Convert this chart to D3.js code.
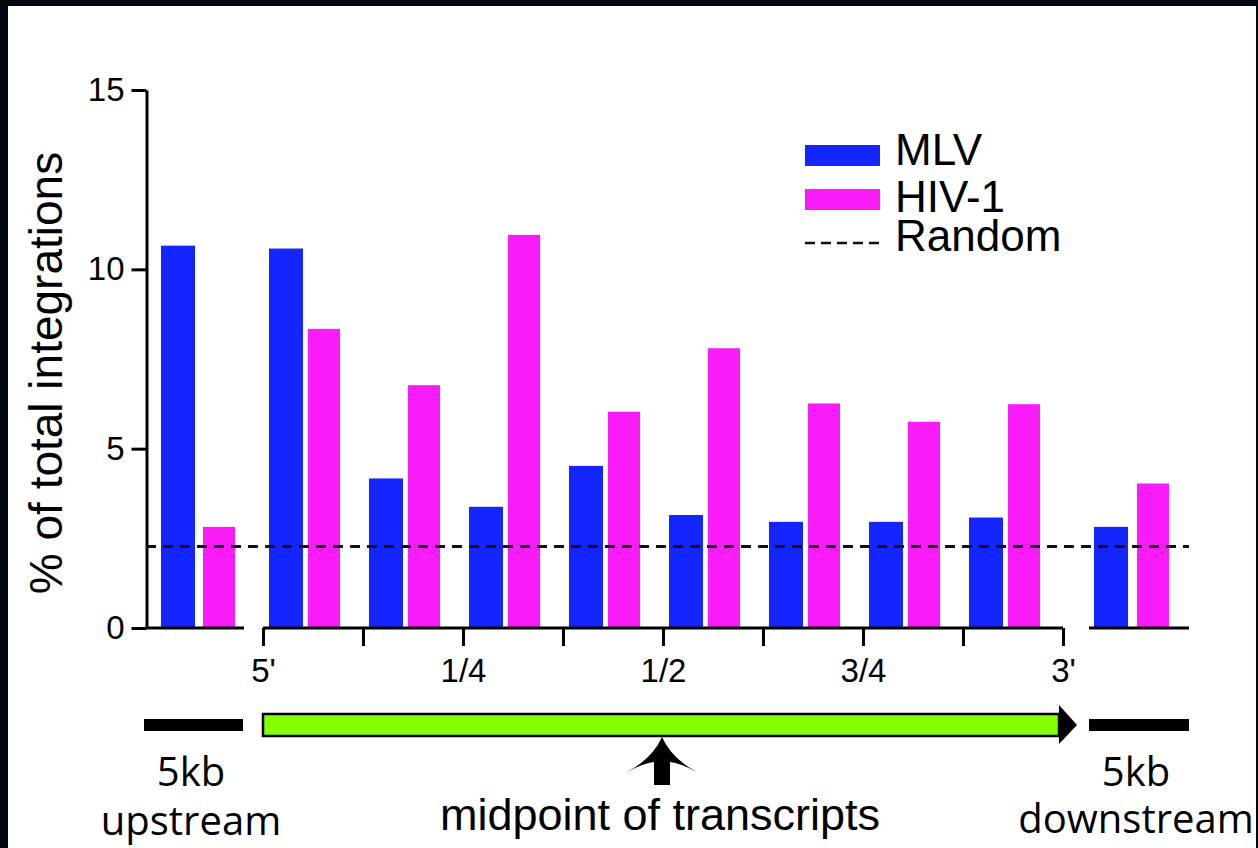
<!DOCTYPE html>
<html>
<head>
<meta charset="utf-8">
<script src="https://cdn.jsdelivr.net/npm/d3@7"></script>
<style>
  body { margin: 0; background: #00060f; }
  svg text { font-family: "Liberation Sans", Arial, sans-serif; fill: #000; }
  .flank { font-family: "Open Sans", "Noto Sans", sans-serif; }
</style>
</head>
<body>
<div id="chart"></div>
<script>
// regions along the transcript: 5kb upstream, 8 gene bins, 5kb downstream
let regions = ["upstream", "bin1", "bin2", "bin3", "bin4", "bin5", "bin6", "bin7", "bin8", "downstream"]
let mlv = [10.66, 10.58, 4.17, 3.38, 4.52, 3.15, 2.96, 2.96, 3.08, 2.82]
let hiv = [2.82, 8.34, 6.77, 10.96, 6.03, 7.80, 6.26, 5.75, 6.24, 4.03]
let randomLevel = 2.27

let yTicks = [0, 5, 10, 15]
let geneTicks = [0, 1/8, 2/8, 3/8, 4/8, 5/8, 6/8, 7/8, 1]
let geneLabels = ["5'", "", "1/4", "", "1/2", "", "3/4", "", "3'"]

let series = [
  { name: "MLV", values: mlv, color: "#1426ff" },
  { name: "HIV-1", values: hiv, color: "#f91cf9" }
]

let width = 1258,
    height = 848

let svg = d3.select("#chart").append("svg")
  .attr("width", width)
  .attr("height", height)

// white panel inside the dark frame
svg.append("rect")
  .attr("x", 8).attr("y", 6)
  .attr("width", 1248).attr("height", height - 6)
  .attr("fill", "#fff")

let y = d3.scaleLinear()
  .domain([0, 15])
  .range([628, 90])

// three sections of the x axis
let xUp = d3.scaleLinear().domain([0, 1]).range([144, 244])
let xGene = d3.scaleLinear().domain([0, 1]).range([263, 1063])
let xDown = d3.scaleLinear().domain([0, 1]).range([1089, 1189])

// slot left edge + bar offsets inside a 100px slot
function slot(i) {
  if (i === 0) return { x0: xUp(0), off: [17, 59] }
  if (i === regions.length - 1) return { x0: xDown(0), off: [5, 48] }
  return { x0: xGene((i - 1) / 8), off: [6, 45] }
}
let barW = [34, 32]

// bars
series.forEach((s, k) => {
  svg.append("g")
    .selectAll("rect")
    .data(s.values)
    .enter().append("rect")
    .attr("x", (d, i) => slot(i).x0 + slot(i).off[k])
    .attr("y", d => y(d))
    .attr("width", barW[k])
    .attr("height", d => y(0) - y(d))
    .attr("fill", s.color)
})

// y axis
let yAxis = svg.append("g")
  .attr("transform", `translate(${xUp(0) + 2.5},0)`)
  .call(d3.axisLeft(y).tickValues(yTicks).tickSize(15).tickSizeOuter(0).tickPadding(7))
yAxis.selectAll("path, line").attr("stroke", "#000").attr("stroke-width", 3)
yAxis.selectAll("text").style("font-size", "33px").attr("font-family", null)

svg.append("text")
  .attr("transform", "translate(62,373) rotate(-90)")
  .attr("text-anchor", "middle")
  .style("font-size", "46px")
  .text("% of total integrations")

// baselines of the flanking sections
svg.append("line")
  .attr("x1", xUp(0) + 1).attr("x2", xUp(1))
  .attr("y1", y(0)).attr("y2", y(0))
  .attr("stroke", "#000").attr("stroke-width", 3)
svg.append("line")
  .attr("x1", xDown(0)).attr("x2", xDown(1))
  .attr("y1", y(0)).attr("y2", y(0))
  .attr("stroke", "#000").attr("stroke-width", 3)

// gene axis
let gAxis = svg.append("g")
  .attr("transform", `translate(0,${y(0)})`)
  .call(d3.axisBottom(xGene).tickValues(geneTicks).tickSize(18).tickSizeOuter(0).tickPadding(13)
    .tickFormat((d, i) => geneLabels[i]))
gAxis.selectAll("path, line").attr("stroke", "#000").attr("stroke-width", 3)
gAxis.select("path").attr("d", `M${xGene(0)},0H${xGene(1)}`)
gAxis.selectAll("text").style("font-size", "33px").attr("font-family", null)

// random expectation
svg.append("line")
  .attr("x1", xUp(0) + 2).attr("x2", xDown(1))
  .attr("y1", y(randomLevel)).attr("y2", y(randomLevel))
  .attr("stroke", "#111").attr("stroke-width", 3)
  .attr("stroke-dasharray", "10,7")

// legend
let legend = svg.append("g").attr("transform", "translate(805,0)")
let legendRows = [
  { label: "MLV", color: series[0].color, top: 145, base: 165 },
  { label: "HIV-1", color: series[1].color, top: 189, base: 212 }
]
legendRows.forEach(r => {
  legend.append("rect")
    .attr("x", 0).attr("y", r.top)
    .attr("width", 75).attr("height", 21)
    .attr("fill", r.color)
  legend.append("text")
    .attr("x", 90).attr("y", r.base)
    .style("font-size", "44px")
    .text(r.label)
})
legend.append("line")
  .attr("x1", 0).attr("x2", 75)
  .attr("y1", 243).attr("y2", 243)
  .attr("stroke", "#111").attr("stroke-width", 2.5)
  .attr("stroke-dasharray", "10,6")
legend.append("text")
  .attr("x", 90).attr("y", 251)
  .style("font-size", "44px")
  .text("Random")

// transcript diagram
let diagY = 725
svg.append("rect")
  .attr("x", xUp(0)).attr("y", diagY - 6)
  .attr("width", 99).attr("height", 12)
  .attr("fill", "#000")
svg.append("rect")
  .attr("x", xDown(0)).attr("y", diagY - 6)
  .attr("width", 100).attr("height", 12)
  .attr("fill", "#000")

svg.append("rect")
  .attr("x", xGene(0)).attr("y", diagY - 11)
  .attr("width", xGene(1) - 4 - xGene(0)).attr("height", 22)
  .attr("fill", "#84ff00")
  .attr("stroke", "#000").attr("stroke-width", 2.5)
svg.append("path")
  .attr("d", `M${xGene(1) - 4},${diagY - 20}L${xGene(1) + 14},${diagY}L${xGene(1) - 4},${diagY + 19}Z`)
  .attr("fill", "#000")

// midpoint arrow
let mx = xGene(0.5) - 1
svg.append("path")
  .attr("d", `M${mx},${diagY + 12}` +
    `Q${mx - 10},${diagY + 34} ${mx - 35},${diagY + 47}` +
    `Q${mx - 18},${diagY + 38} ${mx - 8},${diagY + 37}` +
    `L${mx - 8},${diagY + 60}L${mx + 8},${diagY + 60}L${mx + 8},${diagY + 37}` +
    `Q${mx + 18},${diagY + 38} ${mx + 35},${diagY + 47}` +
    `Q${mx + 10},${diagY + 34} ${mx},${diagY + 12}Z`)
  .attr("fill", "#000")

svg.append("text")
  .attr("x", mx - 2).attr("y", 830)
  .attr("text-anchor", "middle")
  .style("font-size", "45px")
  .text("midpoint of transcripts")

// flank labels
let flank = [
  { x: xUp(0.47), lines: ["5kb", "upstream"], base: [786, 835] },
  { x: xDown(0.47), lines: ["5kb", "downstream"], base: [786, 833] }
]
flank.forEach(f => {
  f.lines.forEach((t, j) => {
    svg.append("text")
      .attr("class", "flank")
      .attr("x", f.x).attr("y", f.base[j])
      .attr("text-anchor", "middle")
      .style("font-size", "40px")
      .text(t)
  })
})
</script>
</body>
</html>
